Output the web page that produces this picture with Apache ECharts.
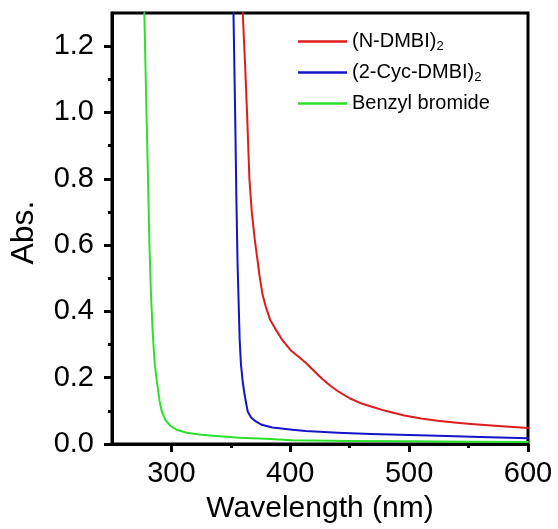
<!DOCTYPE html>
<html><head><meta charset="utf-8">
<script src="https://cdn.jsdelivr.net/npm/echarts@6/dist/echarts.min.js"></script>
<style>html,body{margin:0;padding:0;background:#fff}#c{width:558px;height:529px}</style>
</head><body><div id="c"></div>
<script>
const seriesNames = ['(N-DMBI)2', '(2-Cyc-DMBI)2', 'Benzyl bromide'];
const legendLabels = ['(N-DMBI){sub|2}', '(2-Cyc-DMBI){sub|2}', 'Benzyl bromide'];
const xMajorTicks = [300, 400, 500, 600];
const xMinorTicks = [350, 450, 550];
const yMajorTicks = [0.0, 0.2, 0.4, 0.6, 0.8, 1.0, 1.2];
const yMinorTicks = [0.1, 0.3, 0.5, 0.7, 0.9, 1.1];

const redWl  = [360,361.9,363.6,365.6,367.6,370,372.6,374,376.7,379.4,383,387.8,393,400.3,408,413,420,427,434,441,450,460,468,480,496,510,524,540,552,575,600];
const redAbs = [1.30,1.15,1.00,0.80,0.70,0.62,0.55,0.51,0.45,0.414,0.375,0.345,0.315,0.283,0.26,0.245,0.22,0.196,0.175,0.157,0.138,0.122,0.113,0.100,0.086,0.077,0.070,0.064,0.060,0.054,0.048];

const blueWl  = [352.2,353.6,354.6,355.6,356.6,357.4,358.5,360,361.5,363,364.2,367,371,376,385,401.7,413,440,468,500,524,560,600];
const blueAbs = [1.30,1.00,0.75,0.55,0.42,0.315,0.24,0.187,0.15,0.12,0.098,0.08,0.068,0.058,0.050,0.043,0.039,0.034,0.030,0.027,0.025,0.021,0.017];

const greenWl  = [277.2,279,280.3,281.5,282.8,284.5,286,287.8,290,291.9,295,299,305,312.8,325,337.8,357,379,401.7,450,500,550,600];
const greenAbs = [1.30,1.00,0.80,0.60,0.45,0.32,0.24,0.187,0.13,0.098,0.072,0.055,0.042,0.034,0.028,0.024,0.019,0.016,0.011,0.009,0.008,0.007,0.006];

const colors = ['#dd1c1c', '#1414c8', '#2ee02e'];
const zip = (a, b) => a.map((v, i) => [v, b[i]]);
const datasets = [zip(redWl, redAbs), zip(blueWl, blueAbs), zip(greenWl, greenAbs)];

const chart = echarts.init(document.getElementById('c'));
const font = 'Liberation Sans, Arial, sans-serif';
const tickStyle = {width: 3, color: '#000'};
const minorAxis = (extra) => Object.assign({
  type: 'value', axisLine: {show: false}, axisLabel: {show: false}, splitLine: {show: false}
}, extra);
chart.setOption({
  animation: false,
  backgroundColor: '#fff',
  grid: {left: 110, right: 30, top: 13, bottom: 76, show: true, borderColor: '#000', borderWidth: 3, backgroundColor: 'transparent'},
  legend: {
    orient: 'vertical', left: 293, top: 25, itemWidth: 49, itemHeight: 2.5, itemGap: 8,
    icon: 'rect', data: seriesNames,
    formatter: n => legendLabels[seriesNames.indexOf(n)],
    textStyle: {fontFamily: font, fontSize: 20, color: '#000', lineHeight: 23,
      rich: {sub: {fontFamily: font, fontSize: 13, color: '#000', verticalAlign: 'bottom', lineHeight: 13, padding: [10, 0, 0, 0]}}}
  },
  xAxis: [{
    type: 'value', min: 250, max: 600, interval: 50,
    name: 'Wavelength (nm)', nameLocation: 'middle', nameGap: 50,
    nameTextStyle: {fontFamily: font, fontSize: 30, color: '#000'},
    axisLine: {lineStyle: {color: '#000', width: 3}},
    axisTick: {show: true, length: 8, customValues: xMajorTicks, lineStyle: tickStyle},
    axisLabel: {fontFamily: font, fontSize: 29, color: '#000', margin: 15, customValues: xMajorTicks},
    splitLine: {show: false}
  }, minorAxis({min: 250, max: 600, interval: 50, position: 'bottom',
    axisTick: {show: true, length: 4, customValues: xMinorTicks, lineStyle: tickStyle}})],
  yAxis: [{
    type: 'value', min: 0, max: 1.3, interval: 0.1,
    name: 'Abs.', nameLocation: 'middle', nameGap: 72, nameRotate: 90,
    nameTextStyle: {fontFamily: font, fontSize: 32, color: '#000', padding: [0, 8, 0, 0]},
    axisLine: {lineStyle: {color: '#000', width: 3}},
    axisTick: {show: true, length: 8, customValues: yMajorTicks, lineStyle: tickStyle},
    axisLabel: {fontFamily: font, fontSize: 29, color: '#000', margin: 18, customValues: yMajorTicks,
      formatter: v => v.toFixed(1)},
    splitLine: {show: false}
  }, minorAxis({min: 0, max: 1.3, interval: 0.1, position: 'left',
    axisTick: {show: true, length: 4, customValues: yMinorTicks, lineStyle: tickStyle}})],
  series: seriesNames.map((n, i) => ({
    name: n, type: 'line', data: datasets[i], showSymbol: false, smooth: false,
    lineStyle: {color: colors[i], width: 2, join: 'round', cap: 'round'}, itemStyle: {color: colors[i]}, clip: true
  }))
});
</script></body></html>
